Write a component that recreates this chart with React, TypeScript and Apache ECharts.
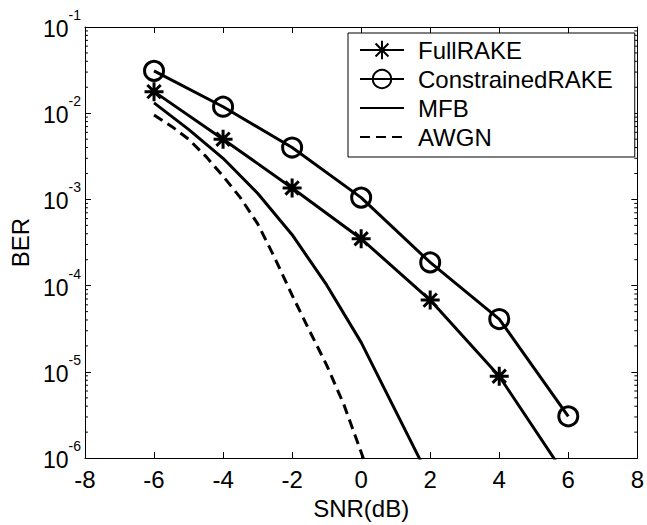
import React, { useEffect, useRef } from "react";
import * as echarts from "echarts";

const snrMarked = [-6, -4, -2, 0, 2, 4, 6];
const fullRake = [0.0178, 0.005, 0.00136, 3.5e-4, 6.8e-5, 8.9e-6, 5.6e-7];
const constrainedRake = [0.031, 0.0119, 0.004, 0.00105, 1.86e-4, 4.1e-5, 3.05e-6];

const snrMfb = [-6, -5, -4, -3, -2, -1, 0, 1, 2];
const mfb = [0.0132, 0.0065, 0.003, 0.00118, 3.9e-4, 1.02e-4, 2.2e-5, 3.5e-6, 5.6e-7];

const snrAwgn = [-6, -5.5, -5, -4.5, -4, -3.5, -3, -2.5, -2, -1.5, -1, -0.5, 0, 0.5];
const awgn = [0.00955, 0.00708, 0.005, 0.00316, 0.00186, 0.00105, 5.25e-4, 2.09e-4, 7.76e-5, 3.02e-5, 1.2e-5, 4.17e-6, 1.17e-6, 3.2e-7];

const xTicks = [-8, -6, -4, -2, 0, 2, 4, 6, 8];
const yDecades = [-6, -5, -4, -3, -2, -1];
const legendNames = ["FullRAKE", "ConstrainedRAKE", "MFB", "AWGN"];

const FONT = "Liberation Sans, Arial, Helvetica, sans-serif";
const STAR = "path://M10,0L10,20M0,10L20,10M3,3L17,17M3,17L17,3";
const LW = 3;

const minorVals: number[] = [];
for (const d of yDecades.slice(0, 5)) {
  for (let m = 2; m <= 9; m++) minorVals.push(m * Math.pow(10, d));
}

const pairs = (xs: number[], ys: number[]) => xs.map((x, i) => [x, ys[i]]);

export default function App() {
  const ref = useRef<HTMLDivElement>(null);
  useEffect(() => {
    if (!ref.current) return;
    const chart = echarts.init(ref.current, null, { renderer: "svg" });
    const axisCommon = {
      min: xTicks[0],
      max: xTicks[xTicks.length - 1],
      interval: 2,
      axisLine: { show: true, onZero: false, lineStyle: { color: "#000", width: 1 } },
      axisTick: { show: true, inside: true, length: 6, lineStyle: { color: "#000" } },
      splitLine: { show: false },
    };
    const yCommon = {
      type: "log",
      logBase: 10,
      min: Math.pow(10, yDecades[0]),
      max: Math.pow(10, yDecades[yDecades.length - 1]),
      axisLine: { show: true, onZero: false, lineStyle: { color: "#000", width: 1 } },
      axisTick: { show: true, inside: true, length: 6, lineStyle: { color: "#000" } },
      splitLine: { show: false },
      minorTick: { show: false },
    };
    chart.setOption({
      animation: false,
      backgroundColor: "#fff",
      textStyle: { fontFamily: FONT },
      grid: { left: 83, right: 4, top: 27, bottom: 56 },
      legend: {
        data: legendNames,
        orient: "vertical",
        left: 348,
        top: 33,
        padding: [5, 22, 8, 11],
        itemWidth: 44,
        itemHeight: 23,
        itemGap: 5,
        borderColor: "#000",
        borderWidth: 1,
        backgroundColor: "#fff",
        textStyle: { fontSize: 24, color: "#000", fontFamily: FONT, lineHeight: 24, padding: [0, 0, 0, 9] },
      },
      xAxis: [
        {
          type: "value",
          position: "bottom",
          ...axisCommon,
          name: "SNR(dB)",
          nameLocation: "middle",
          nameGap: 34,
          nameTextStyle: { fontSize: 24, color: "#000", fontFamily: FONT },
          axisLabel: {
            show: true,
            fontSize: 24,
            color: "#000",
            fontFamily: FONT,
            margin: 9,
            showMinLabel: true,
            showMaxLabel: true,
          },
        },
        {
          type: "value",
          position: "top",
          ...axisCommon,
          axisLabel: { show: false },
        },
      ],
      yAxis: [
        {
          ...yCommon,
          position: "left",
          name: "BER",
          nameLocation: "middle",
          nameGap: 50,
          nameTextStyle: { fontSize: 24, color: "#000", fontFamily: FONT },
          axisLabel: {
            show: true,
            margin: 4,
            color: "#000",
            fontFamily: FONT,
            align: "right",
            formatter: (v: number) => {
              const e = Math.round(Math.log10(v));
              return "{s|" + e + "}\n{b|10}";
            },
            rich: {
              b: { fontSize: 23, lineHeight: 24, color: "#000", fontFamily: FONT, padding: [0, 12.5, 0, 0], align: "right" },
              s: { fontSize: 14, lineHeight: 4, color: "#000", fontFamily: FONT, align: "right" },
            },
          },
        },
        {
          ...yCommon,
          position: "right",
          axisLabel: { show: false },
        },
      ],
      series: [
        {
          name: "FullRAKE",
          type: "line",
          data: pairs(snrMarked, fullRake),
          symbol: STAR,
          symbolSize: 19,
          symbolKeepAspect: true,
          showAllSymbol: true,
          clip: true,
          lineStyle: { color: "#000", width: LW },
          itemStyle: { color: "#000", borderColor: "#000", borderWidth: LW },
          z: 3,
        },
        {
          name: "ConstrainedRAKE",
          type: "line",
          data: pairs(snrMarked, constrainedRake),
          symbol: "circle",
          symbolSize: 19,
          showAllSymbol: true,
          clip: true,
          lineStyle: { color: "#000", width: LW },
          itemStyle: { color: "rgba(0,0,0,0)", borderColor: "#000", borderWidth: LW },
          z: 3,
        },
        {
          name: "MFB",
          type: "line",
          data: pairs(snrMfb, mfb),
          symbol: "none",
          clip: true,
          lineStyle: { color: "#000", width: LW },
          itemStyle: { color: "rgba(0,0,0,0)", borderWidth: 0 },
        },
        {
          name: "AWGN",
          type: "line",
          data: pairs(snrAwgn, awgn),
          symbol: "none",
          clip: true,
          lineStyle: { color: "#000", width: LW, type: [10, 6] },
          itemStyle: { color: "rgba(0,0,0,0)", borderWidth: 0 },
        },
        {
          type: "custom",
          silent: true,
          clip: false,
          data: minorVals.map((v) => [xTicks[0], v]),
          renderItem: (params: any, api: any) => {
            const p = api.coord([xTicks[0], api.value(1)]);
            const cs = params.coordSys;
            return {
              type: "group",
              children: [
                { type: "line", shape: { x1: cs.x, y1: p[1], x2: cs.x + 3, y2: p[1] }, style: { stroke: "#000", lineWidth: 1 } },
                { type: "line", shape: { x1: cs.x + cs.width - 3, y1: p[1], x2: cs.x + cs.width, y2: p[1] }, style: { stroke: "#000", lineWidth: 1 } },
              ],
            };
          },
        },
      ],
    });
    return () => chart.dispose();
  }, []);
  return (
    <div
      ref={ref}
      style={{ position: "absolute", left: 0, top: 0, width: 647, height: 525, background: "#fff" }}
    />
  );
}
